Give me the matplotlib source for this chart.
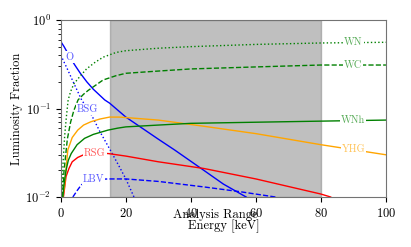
import numpy as np
import matplotlib
matplotlib.use('Agg')
import matplotlib.pyplot as plt

plt.rcParams['font.family'] = 'serif'
plt.rcParams['font.serif'] = ['cmr10']
plt.rcParams['mathtext.fontset'] = 'cm'
plt.rcParams['axes.formatter.use_mathtext'] = True
plt.rcParams['font.size'] = 9

# energy [keV] / luminosity fraction
o_x = [0, 1, 2, 3, 4.3, 6, 8, 10, 13.5, 15, 20, 25, 30, 35, 44, 50, 57]
o_y = [0.57, 0.5, 0.43, 0.37, 0.31, 0.25, 0.2, 0.165, 0.125, 0.115, 0.08, 0.06, 0.045, 0.034, 0.02, 0.014, 0.01]

bsg_x = [0, 2, 3.8, 6.4, 9.4, 12, 15, 18, 20, 22.5]
bsg_y = [0.40, 0.28, 0.2, 0.125, 0.085, 0.055, 0.035, 0.022, 0.016, 0.01]

lbv_x = [3.7, 5, 6.3, 8, 10, 14.5, 20, 30, 44, 55, 66]
lbv_y = [0.01, 0.0118, 0.0137, 0.015, 0.0157, 0.016, 0.016, 0.015, 0.013, 0.0115, 0.01]

rsg_x = [0.8, 1.6, 2.5, 3.5, 5.2, 7, 10, 14.5, 20, 30, 44, 60, 80, 83]
rsg_y = [0.01, 0.017, 0.021, 0.025, 0.028, 0.03, 0.031, 0.031, 0.029, 0.025, 0.021, 0.016, 0.0108, 0.01]

yhg_x = [0.6, 1.1, 2.15, 3.5, 5.2, 7, 9.3, 12, 15, 18, 20, 30, 44, 60, 80, 100]
yhg_y = [0.01, 0.013, 0.034, 0.047, 0.057, 0.065, 0.071, 0.076, 0.08, 0.08, 0.079, 0.074, 0.063, 0.052, 0.039, 0.030]

wnh_x = [0.6, 1.0, 1.6, 2.3, 3.2, 5, 7.3, 10, 14.5, 17.5, 20, 30, 40, 60, 80, 100]
wnh_y = [0.01, 0.014, 0.02, 0.026, 0.031, 0.039, 0.046, 0.051, 0.057, 0.06, 0.062, 0.065, 0.068, 0.07, 0.072, 0.074]

wc_x = [0.5, 1, 2, 3, 4, 5.3, 7, 8.4, 10.4, 13, 17, 20, 30, 40, 60, 80, 100]
wc_y = [0.01, 0.02, 0.045, 0.07, 0.095, 0.125, 0.145, 0.16, 0.18, 0.21, 0.235, 0.25, 0.265, 0.28, 0.295, 0.31, 0.31]

wn_x = [0.3, 0.7, 1.2, 1.7, 2.25, 3, 4, 5.85, 7.9, 10.4, 13, 17, 20, 30, 40, 60, 80, 100]
wn_y = [0.01, 0.025, 0.05, 0.08, 0.125, 0.155, 0.19, 0.23, 0.28, 0.33, 0.38, 0.43, 0.45, 0.48, 0.50, 0.53, 0.55, 0.56]

# name, x, y, colour, style, label x
curves = [
    ('O', o_x, o_y, 'blue', '-', 2.8),
    ('BSG', bsg_x, bsg_y, 'blue', ':', 8.3),
    ('LBV', lbv_x, lbv_y, 'blue', '--', 10),
    ('RSG', rsg_x, rsg_y, 'red', '-', 10.5),
    ('YHG', yhg_x, yhg_y, 'orange', '-', 90),
    ('WNh', wnh_x, wnh_y, 'green', '-', 90),
    ('WC', wc_x, wc_y, 'green', '--', 90),
    ('WN', wn_x, wn_y, 'green', ':', 90),
]

fig = plt.figure(figsize=(4.11, 2.47), dpi=100)
ax = fig.add_axes([0.148, 0.2024, 0.791, 0.7166])

ax.axvspan(15, 80, color='gray', alpha=0.5, zorder=0)

for name, xs, ys, c, ls, lx in curves:
    ax.plot(xs, ys, color=c, ls=ls, lw=1)
    # inline label sitting on the curve
    ly = 10 ** np.interp(lx, xs, np.log10(ys))
    ax.text(lx, ly, name, color=c, alpha=0.65, fontsize=7.5, ha='center', va='center',
            bbox=dict(facecolor='white', edgecolor='none', pad=0.6))

ax.set_yscale('log')
ax.set_xlim(0, 100)
ax.set_ylim(0.01, 1)
ax.set_xticks([0, 20, 40, 60, 80, 100])
ax.set_xlabel('Energy [keV]', labelpad=0)
ax.set_ylabel('Luminosity Fraction', labelpad=2)
ax.text(47.5, -0.1, 'Analysis Range', transform=ax.get_xaxis_transform(),
        ha='center', va='center', clip_on=False)

for s in ax.spines.values():
    s.set_color('0.45')

fig.savefig('out.png', dpi=100)
